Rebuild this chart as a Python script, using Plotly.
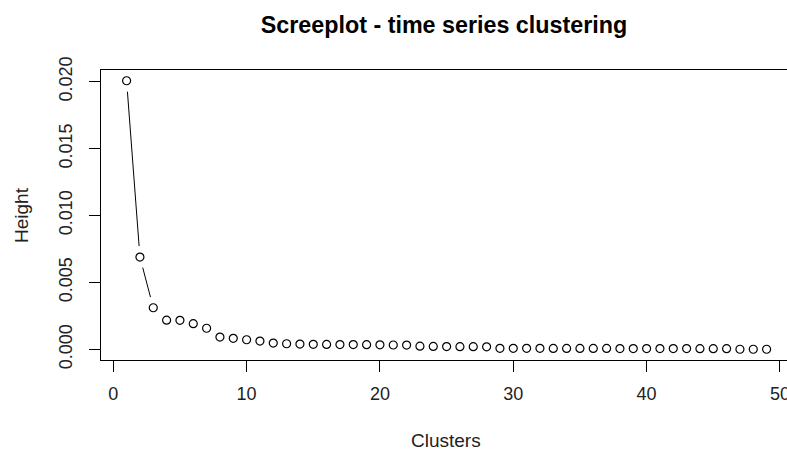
import plotly.graph_objects as go

clusters = list(range(1, 50))
heights = [
    0.02007, 0.00690, 0.00311, 0.00218, 0.00217, 0.00192, 0.00158, 0.00092, 0.00083, 0.00072,
    0.00062, 0.00047, 0.00042, 0.00040, 0.00038, 0.00037, 0.00036, 0.00036, 0.00035, 0.00034,
    0.00033, 0.00032, 0.00024, 0.00022, 0.00021, 0.00020, 0.00020, 0.00019, 0.00008, 0.00008,
    0.00008, 0.00008, 0.00007, 0.00007, 0.00007, 0.00007, 0.00007, 0.00006, 0.00006, 0.00006,
    0.00006, 0.00006, 0.00006, 0.00005, 0.00005, 0.00005, 0.00001, 0.00001, 0.00001,
]
x_ticks = [0, 10, 20, 30, 40, 50]
y_ticks = [0.000, 0.005, 0.010, 0.015, 0.020]
y_tick_labels = ["0.000", "0.005", "0.010", "0.015", "0.020"]

FONT = "Liberation Sans, Arial, sans-serif"

lo, hi = min(heights), max(heights)
pad = 0.04 * (hi - lo)
y_range = [lo - pad, hi + pad]

fig = go.Figure()
# connecting line
fig.add_trace(go.Scatter(x=clusters, y=heights, mode="lines",
                         line=dict(color="black", width=1), hoverinfo="skip"))
# white discs to produce R type="b" gaps around points
fig.add_trace(go.Scatter(x=clusters, y=heights, mode="markers",
                         marker=dict(symbol="circle", size=22, color="white",
                                     line=dict(width=0)), hoverinfo="skip"))
# open circles
fig.add_trace(go.Scatter(x=clusters, y=heights, mode="markers",
                         marker=dict(symbol="circle-open", size=8, color="black",
                                     line=dict(width=1.2, color="black"))))

fig.update_layout(
    width=787, height=452,
    margin=dict(l=101, r=0, t=70, b=92, autoexpand=False),
    paper_bgcolor="white", plot_bgcolor="white",
    showlegend=False,
    font=dict(family=FONT, color="black", size=18),
    title=dict(text="<b>Screeplot - time series clustering</b>",
               font=dict(family=FONT, size=23.3, color="black"),
               x=444 / 787, xanchor="center", xref="container",
               y=1 - 25 / 452, yanchor="middle", yref="container"),
    xaxis=dict(range=[-0.92, 50.53], tickmode="array", tickvals=x_ticks,
               ticks="outside", ticklen=11, tickwidth=1, tickcolor="black",
               showline=True, linecolor="black", linewidth=1, mirror=True,
               showgrid=False, zeroline=False, automargin=False,
               ticklabeloverflow="allow",
               tickfont=dict(family=FONT, size=18, color="#222"),
               ticklabelstandoff=6),
    yaxis=dict(range=y_range, tickmode="array", tickvals=y_ticks, ticktext=y_tick_labels,
               ticks="outside", ticklen=11, tickwidth=1, tickcolor="black",
               showline=True, linecolor="black", linewidth=1, mirror=True,
               showgrid=False, zeroline=False, tickangle=-90, automargin=False,
               ticklabeloverflow="allow",
               tickfont=dict(family=FONT, size=18, color="#222"),
               ticklabelstandoff=10),
    annotations=[
        dict(text="Clusters", xref="paper", yref="paper", x=(446 - 101) / 686,
             y=(360 - 440) / 290, xanchor="center", yanchor="middle", showarrow=False,
             font=dict(family=FONT, size=19, color="#222")),
        dict(text="Height", xref="paper", yref="paper", x=(21 - 101) / 686,
             y=(360 - 215) / 290, xanchor="center", yanchor="middle", showarrow=False,
             textangle=-90, font=dict(family=FONT, size=19, color="#222")),
    ],
)

fig.write_html("out.html", config={"displayModeBar": False},
               post_script="document.body.style.margin='0px';document.body.style.overflow='hidden';")
